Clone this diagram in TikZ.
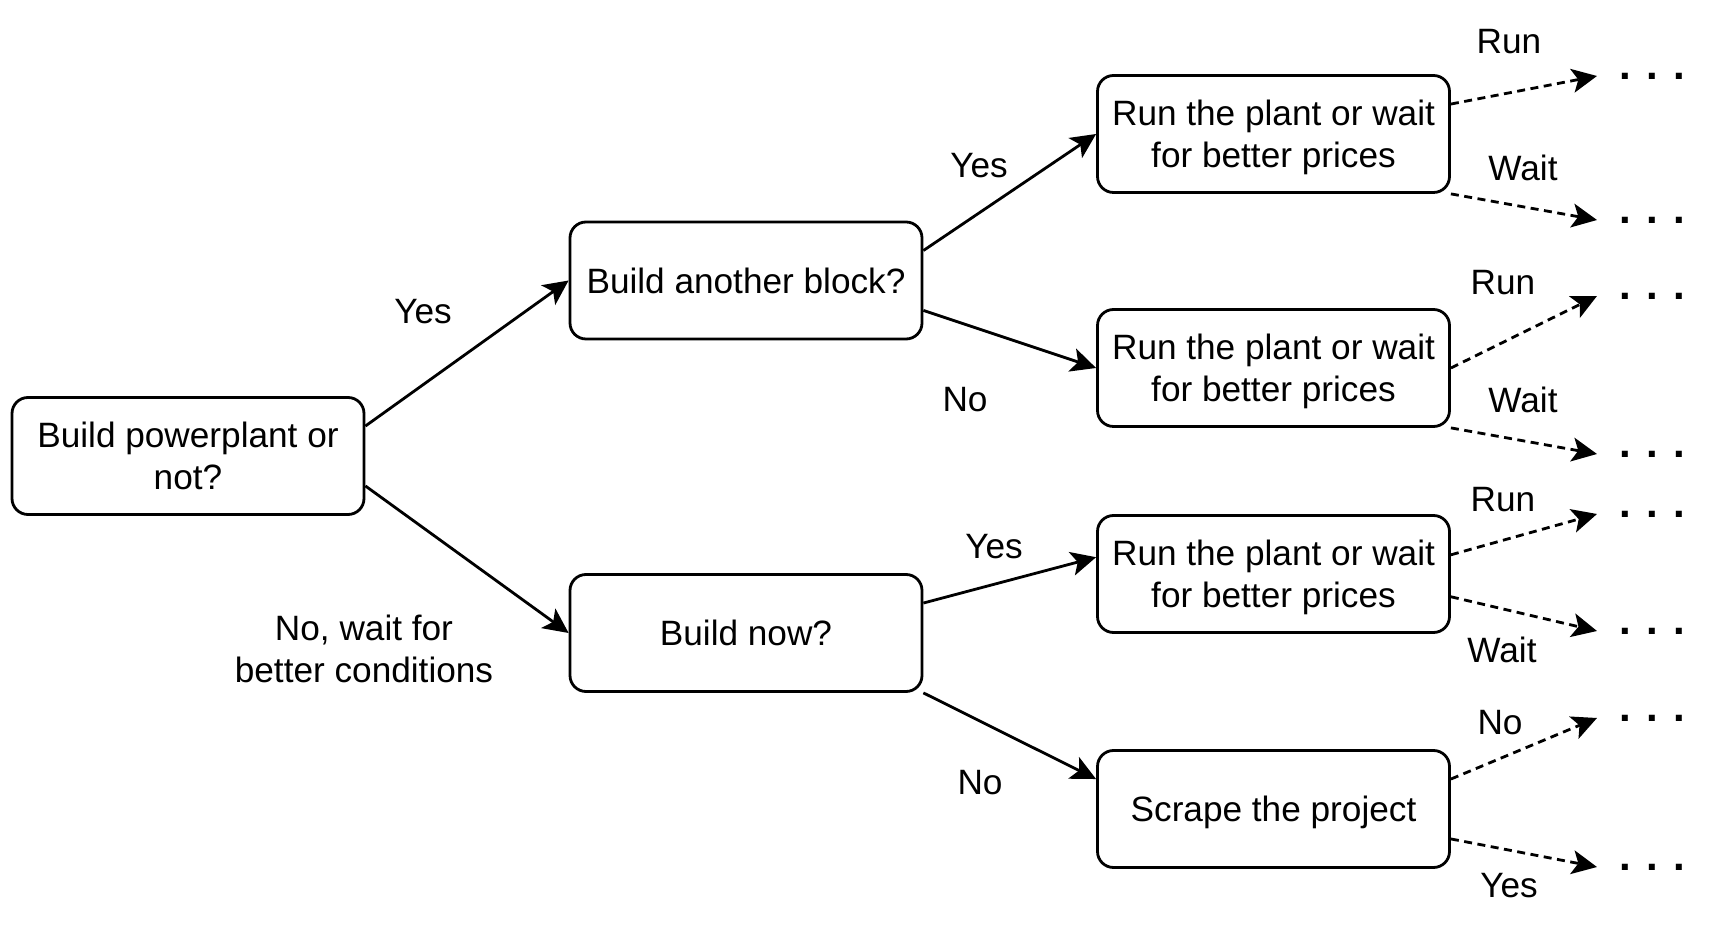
\documentclass[tikz,border=0pt]{standalone}
\usepackage{fontspec}
\setmainfont{Liberation Sans}
\usetikzlibrary{arrows.meta,positioning,calc}

\tikzset{
  box/.style={draw, line width=1.4pt, rounded corners=8pt, minimum width=176pt, minimum height=58.5pt, align=center, inner sep=2pt},
  tag/.style={align=center},
  flow/.style={line width=1.4pt, -{Stealth[length=12.5pt,width=12pt,inset=3pt]}},
  maybe/.style={flow, dash pattern=on 4pt off 2.75pt},
  dots/.style={inner sep=0pt, font=\fontsize{21}{24}\selectfont\bfseries},
}

\begin{document}
\begin{tikzpicture}[x=0.5pt, y=-0.5pt, node distance=263.75pt, font=\fontsize{17.6}{21}\selectfont]
    \useasboundingbox (0,0) rectangle (1709,929);

    % First decision
    \node [box] (build) at (188,456) {Build powerplant or\\not?};

    % Second stage
    \node [box, right of=build, xshift=15.25pt, yshift=87.75pt] (block) {Build another block?};
    \node [box, right of=build, xshift=15.25pt, yshift=-88.5pt] (now) {Build now?};

    % Operating stage
    \node [box, right of=block, yshift=73.25pt] (run1) {Run the plant or wait\\\smash{for better prices}};
    \node [box, right of=block, yshift=-43.75pt] (run2) {Run the plant or wait\\\smash{for better prices}};
    \node [box, right of=now, yshift=29.5pt] (run3) {Run the plant or wait\\\smash{for better prices}};
    \node [box, right of=now, yshift=-88pt, text depth=0pt] (scrap) {Scrape the project};

    % Open ends
    \coordinate (e11) at (1597,76);
    \coordinate (e12) at (1597,220);
    \coordinate (e21) at (1597,296);
    \coordinate (e22) at (1597,454);
    \coordinate (e31) at (1597,514);
    \coordinate (e32) at (1597,631);
    \coordinate (e41) at (1597,718);
    \coordinate (e42) at (1597,867);
    \node [dots, right=11pt of e11] (d11) {. . .};
    \node [dots, right=11pt of e12] (d12) {. . .};
    \node [dots, right=11pt of e21] (d21) {. . .};
    \node [dots, right=11pt of e22] (d22) {. . .};
    \node [dots, right=11pt of e31] (d31) {. . .};
    \node [dots, right=11pt of e32] (d32) {. . .};
    \node [dots, right=11pt of e41] (d41) {. . .};
    \node [dots, right=11pt of e42] (d42) {. . .};

    % Decisions
    \draw [flow] ($(build.north east)!.25!(build.south east)$) -- (block.west);
    \draw [flow] ($(build.north east)!.75!(build.south east)$) -- (now.west);
    \draw [flow] ($(block.north east)!.25!(block.south east)$) -- (run1.west);
    \draw [flow] ($(block.north east)!.75!(block.south east)$) -- (run2.west);
    \draw [flow] ($(now.north east)!.25!(now.south east)$) -- ($(run3.north west)!.36!(run3.south west)$);
    \draw [flow] (now.south east) -- ($(scrap.north west)!.25!(scrap.south west)$);

    % Later choices
    \draw [maybe] ($(run1.north east)!.25!(run1.south east)$) -- (e11);
    \draw [maybe] (run1.south east) -- (e12);
    \draw [maybe] (run2.east) -- (e21);
    \draw [maybe] (run2.south east) -- (e22);
    \draw [maybe] ($(run3.north east)!.34!(run3.south east)$) -- (e31);
    \draw [maybe] ($(run3.north east)!.69!(run3.south east)$) -- (e32);
    \draw [maybe] ($(scrap.north east)!.25!(scrap.south east)$) -- (e41);
    \draw [maybe] ($(scrap.north east)!.75!(scrap.south east)$) -- (e42);

    % Labels
    \node [tag] (yes1) at (423,312) {Yes};
    \node [tag] (wait0) at (364,649) {No, wait for\\better conditions};
    \node [tag] (yes2) at (979,166) {Yes};
    \node [tag] (no2) at (965,400) {No};
    \node [tag] (yes3) at (994,547) {Yes};
    \node [tag] (no3) at (980,783) {No};
    \node [tag] (run1a) at (1509,42) {Run};
    \node [tag] (run1b) at (1523,168) {Wait};
    \node [tag] (run2a) at (1503,283) {Run};
    \node [tag] (run2b) at (1523,400) {Wait};
    \node [tag] (run3a) at (1503,500) {Run};
    \node [tag] (run3b) at (1502,650) {Wait};
    \node [tag] (scrapa) at (1500,723) {No};
    \node [tag] (scrapb) at (1509,886) {Yes};
\end{tikzpicture}
\end{document}
